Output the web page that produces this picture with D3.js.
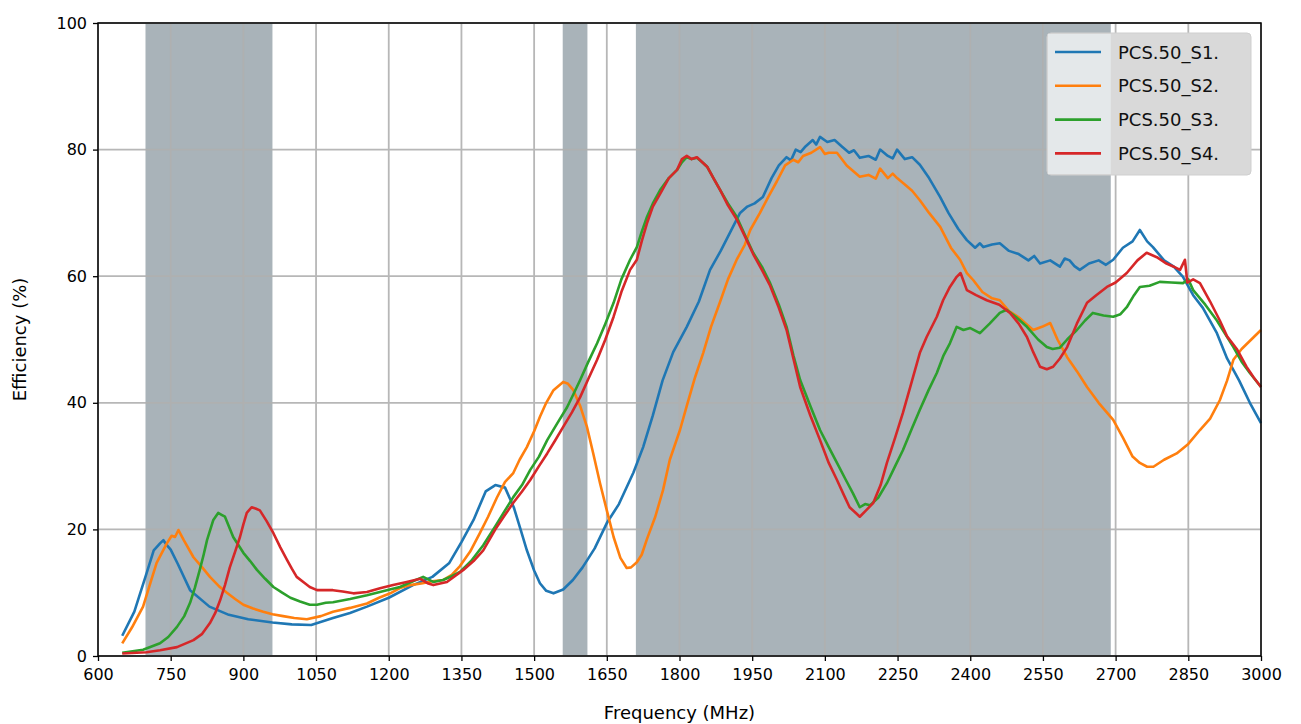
<!DOCTYPE html>
<html>
<head>
    <title>Efficiency</title>
    <script src="https://d3js.org/d3.v7.min.js"></script>
    <style>
        body { margin: 0; background: #fff; }
        svg { display: block; font-family: "DejaVu Sans", sans-serif; }
    </style>
</head>
<body>
    <svg width="1301" height="724"></svg>
    <script>
        // tick labels
        const xTicks = [600, 750, 900, 1050, 1200, 1350, 1500, 1650, 1800, 1950, 2100, 2250, 2400, 2550, 2700, 2850, 3000];
        const yTicks = [0, 20, 40, 60, 80, 100];

        // shaded bands (MHz)
        const bands = [[698, 960], [1559, 1610], [1710, 2690]];

        const seriesNames = ["PCS.50_S1.", "PCS.50_S2.", "PCS.50_S3.", "PCS.50_S4."];
        const seriesColors = ["#1f77b4", "#ff7f0e", "#2ca02c", "#d62728"];

        // [frequency MHz, efficiency %]
        const s1 = [[650,3.2],[675,7],[700,13],[715,16.7],[728,17.8],[735,18.3],[742,17.5],[750,16.8],[765,14.5],[790,10.4],[830,7.8],[870,6.5],[910,5.8],[960,5.3],[1000,5.0],[1040,4.9],[1085,6.0],[1120,6.8],[1155,7.8],[1200,9.2],[1250,11.2],[1290,12.5],[1325,14.7],[1350,18],[1375,21.5],[1400,26],[1420,27],[1440,26.6],[1458,23.5],[1472,20],[1485,16.7],[1500,13.5],[1512,11.5],[1525,10.3],[1540,9.9],[1560,10.5],[1580,12],[1600,14],[1625,17],[1650,21],[1675,24],[1705,29],[1725,33],[1745,38],[1765,43.5],[1787,48],[1815,52],[1840,56],[1863,61],[1885,64],[1905,67],[1925,70],[1940,71],[1955,71.5],[1972,72.5],[1990,75.5],[2005,77.5],[2021,78.8],[2030,78.3],[2040,80],[2050,79.6],[2060,80.5],[2075,81.5],[2082,80.8],[2090,82],[2105,81.2],[2120,81.5],[2135,80.5],[2150,79.5],[2160,79.9],[2172,78.7],[2190,79],[2205,78.4],[2214,80],[2230,79],[2240,78.6],[2249,80],[2265,78.5],[2280,78.8],[2296,77.6],[2315,75.5],[2338,72.5],[2355,70],[2375,67.5],[2393,65.7],[2410,64.5],[2420,65.2],[2427,64.6],[2445,65],[2461,65.2],[2480,64],[2500,63.5],[2520,62.5],[2532,63.2],[2544,62],[2565,62.5],[2585,61.5],[2595,62.8],[2605,62.5],[2615,61.6],[2626,61],[2645,62],[2665,62.5],[2680,61.8],[2695,62.6],[2715,64.5],[2735,65.5],[2750,67.3],[2765,65.5],[2777,64.6],[2800,62.5],[2820,61.5],[2839,59.9],[2860,57],[2880,55],[2909,51],[2930,47],[2955,43.5],[2977,40],[3000,36.8]];

        const s2 = [[650,2],[670,4.5],[693,7.8],[708,11.5],[721,14.7],[742,17.8],[752,19],[759,18.8],[766,19.9],[777,18.3],[797,15.6],[815,14],[831,12.5],[850,11],[866,10],[883,9],[900,8.1],[920,7.5],[941,7],[960,6.6],[982,6.3],[1005,6],[1031,5.8],[1060,6.3],[1085,7],[1120,7.6],[1155,8.3],[1180,9.2],[1203,9.9],[1225,10.8],[1244,11.2],[1270,11.5],[1290,11.8],[1312,12],[1330,12.8],[1347,14.2],[1368,16.5],[1388,19.4],[1405,22],[1423,25],[1440,27.5],[1457,28.9],[1470,31],[1485,33],[1500,35.5],[1512,37.8],[1525,40],[1540,42],[1560,43.3],[1570,43],[1581,42],[1595,39.5],[1609,36.2],[1622,32],[1636,27.3],[1650,23],[1664,18.8],[1678,15.5],[1691,13.9],[1700,14],[1712,14.8],[1722,16],[1733,18.5],[1750,22],[1766,26.2],[1780,31],[1801,35.7],[1815,39.5],[1832,44],[1849,47.9],[1865,52],[1884,56],[1900,59.5],[1918,62.6],[1935,65],[1946,67.3],[1966,70],[1983,72.5],[2001,75],[2018,77.5],[2035,78.4],[2045,78],[2055,79],[2072,79.5],[2090,80.4],[2100,79.3],[2108,79.5],[2125,79.5],[2145,77.5],[2160,76.5],[2172,75.7],[2190,76],[2205,75.4],[2214,77],[2230,75.5],[2240,76.2],[2249,75.5],[2265,74.5],[2280,73.5],[2296,72],[2315,70],[2338,67.8],[2360,64.5],[2379,62.6],[2393,60.5],[2406,59.4],[2425,57.5],[2445,56.5],[2461,56.2],[2480,54.5],[2500,53.5],[2515,52.5],[2530,51.5],[2548,52],[2565,52.6],[2580,50],[2600,47.2],[2620,45],[2641,42.5],[2665,40],[2695,37.3],[2715,34.5],[2735,31.5],[2750,30.5],[2765,29.9],[2778,29.9],[2800,31],[2826,32],[2850,33.5],[2874,35.7],[2895,37.5],[2915,40.4],[2930,43.5],[2943,46.8],[2960,48.5],[2980,50],[3000,51.5]];

        const s3 = [[650,0.5],[693,1],[728,2],[745,3],[763,4.6],[778,6.3],[790,8.4],[800,10.8],[810,13.6],[818,16],[825,18.3],[838,21.5],[848,22.6],[855,22.3],[862,22],[870,20.5],[879,18.8],[890,17.5],[900,16.3],[914,15],[928,13.6],[945,12.2],[962,10.9],[980,10],[997,9.2],[1017,8.6],[1037,8.1],[1052,8.1],[1070,8.4],[1085,8.5],[1120,9],[1155,9.6],[1196,10.4],[1223,10.9],[1250,11.8],[1271,12.5],[1292,11.7],[1312,12],[1330,12.6],[1347,13.3],[1370,15],[1395,17.5],[1420,20.5],[1440,23],[1457,25.1],[1475,27],[1492,29.4],[1510,31.5],[1527,34.1],[1548,36.8],[1568,39.3],[1582,41.5],[1595,43.6],[1612,46.5],[1630,49.4],[1647,52.5],[1664,55.8],[1680,59.5],[1698,62.6],[1712,64.6],[1722,67],[1733,69.4],[1745,71.5],[1760,73.6],[1778,75.5],[1795,76.8],[1805,78],[1815,78.8],[1825,78.5],[1836,78.7],[1847,78],[1857,77.3],[1870,75.5],[1884,73.6],[1900,71.5],[1918,69.4],[1935,66.5],[1952,63.7],[1970,61.5],[1987,58.9],[2005,55.5],[2021,52],[2035,47.5],[2049,43.6],[2070,39.5],[2090,35.7],[2108,33],[2125,30.5],[2142,28],[2158,25.7],[2172,23.5],[2183,24],[2193,23.8],[2210,25],[2228,27.3],[2245,30],[2261,32.5],[2280,36],[2296,38.9],[2314,42],[2331,44.7],[2345,47.5],[2358,49.4],[2372,52],[2386,51.5],[2400,51.8],[2420,51],[2440,52.5],[2461,54.2],[2475,54.7],[2495,53.5],[2517,52],[2540,50],[2558,48.8],[2570,48.5],[2585,48.7],[2600,50],[2620,51.5],[2637,53],[2653,54.2],[2675,53.8],[2695,53.6],[2710,54],[2723,55.1],[2738,57],[2750,58.3],[2770,58.5],[2791,59.1],[2815,59],[2839,58.9],[2850,59.5],[2860,57.8],[2885,55.5],[2909,53],[2925,51],[2943,48.8],[2960,46.5],[2977,44.7],[3000,42.5]];

        const s4 = [[650,0.4],[700,0.6],[728,0.9],[763,1.4],[797,2.5],[815,3.5],[831,5.2],[842,6.8],[852,8.8],[862,11.2],[872,14],[883,16.5],[893,18.8],[900,20.8],[907,22.6],[917,23.5],[925,23.3],[934,23],[948,21.3],[962,19.4],[976,17.2],[990,15.2],[1000,13.8],[1010,12.5],[1025,11.6],[1037,10.9],[1052,10.4],[1085,10.4],[1105,10.2],[1127,9.9],[1155,10.1],[1182,10.7],[1209,11.2],[1237,11.7],[1265,12.2],[1280,11.5],[1292,11.2],[1320,11.7],[1354,13.6],[1375,15],[1395,16.7],[1420,20],[1440,22.3],[1457,24.2],[1475,26],[1492,27.8],[1510,30],[1527,32],[1543,34],[1560,36.2],[1578,38.5],[1595,40.9],[1612,43.8],[1630,46.8],[1647,50],[1664,53.6],[1680,57.5],[1698,61],[1712,62.6],[1722,65.5],[1733,68.4],[1745,71],[1760,73],[1778,75.5],[1795,76.8],[1805,78.5],[1815,79],[1825,78.5],[1836,78.8],[1847,78],[1857,77.3],[1870,75.5],[1884,73.6],[1900,71.2],[1918,69],[1935,66.3],[1952,63.5],[1970,61],[1987,58.5],[2005,55],[2021,51.5],[2035,47],[2049,42.5],[2070,38],[2090,34.1],[2108,30.5],[2125,27.8],[2140,25.3],[2151,23.5],[2165,22.5],[2172,22],[2185,23],[2200,24.2],[2215,27],[2228,30.5],[2245,34.5],[2261,38.4],[2278,43],[2296,47.9],[2310,50.4],[2331,53.6],[2344,56.2],[2358,58.3],[2372,59.9],[2380,60.5],[2393,57.8],[2412,57],[2434,56.2],[2460,55.5],[2482,54.2],[2500,52.5],[2517,50.4],[2530,48],[2544,45.7],[2558,45.3],[2571,45.7],[2585,47],[2600,48.8],[2620,52.5],[2641,55.8],[2660,57],[2682,58.3],[2700,59],[2723,60.5],[2745,62.5],[2764,63.7],[2785,63],[2805,62],[2820,61.5],[2833,61],[2843,62.6],[2848,59],[2860,59.5],[2874,58.9],[2895,56],[2915,53],[2930,50.5],[2950,48.5],[2970,45.7],[2985,44],[3000,42.5]];

        const allSeries = [s1, s2, s3, s4];

        const margin = { left: 98, right: 40, top: 23, bottom: 68 };
        const W = 1301, H = 724;
        const svg = d3.select("svg");

        const x = d3.scaleLinear().domain([600, 3000]).range([margin.left, W - margin.right]);
        const y = d3.scaleLinear().domain([0, 100]).range([H - margin.bottom, margin.top]);

        // shaded bands
        svg.append("g").selectAll("rect")
            .data(bands)
            .enter().append("rect")
            .attr("x", d => x(d[0]))
            .attr("width", d => x(d[1]) - x(d[0]))
            .attr("y", y(100))
            .attr("height", y(0) - y(100))
            .attr("fill", "#a9b3b9");

        // grid
        const grid = svg.append("g").attr("stroke", "#b0b0b0").attr("stroke-width", 1.8).attr("opacity", 0.9);
        grid.selectAll(".gx").data(xTicks).enter().append("line")
            .attr("x1", d => x(d)).attr("x2", d => x(d))
            .attr("y1", y(0)).attr("y2", y(100));
        grid.selectAll(".gy").data(yTicks).enter().append("line")
            .attr("x1", x(600)).attr("x2", x(3000))
            .attr("y1", d => y(d)).attr("y2", d => y(d));

        // curves
        const line = d3.line().x(d => x(d[0])).y(d => y(d[1]));
        svg.append("g").selectAll("path")
            .data(allSeries)
            .enter().append("path")
            .attr("d", d => line(d))
            .attr("fill", "none")
            .attr("stroke", (d, i) => seriesColors[i])
            .attr("stroke-width", 2.6)
            .attr("stroke-linejoin", "round");

        // axes
        const xAxis = svg.append("g")
            .attr("transform", `translate(0, ${y(0)})`)
            .call(d3.axisBottom(x).tickValues(xTicks).tickFormat(d3.format("d")).tickSizeOuter(0).tickSize(5).tickPadding(8));
        const yAxis = svg.append("g")
            .attr("transform", `translate(${x(600)}, 0)`)
            .call(d3.axisLeft(y).tickValues(yTicks).tickSizeOuter(0).tickSize(5).tickPadding(6));
        [xAxis, yAxis].forEach(a => {
            a.select(".domain").remove();
            a.selectAll("line").attr("stroke", "#000").attr("stroke-width", 1.3);
            a.selectAll("text").attr("font-size", 16).attr("fill", "#000").attr("font-family", "DejaVu Sans");
        });

        // frame
        svg.append("rect")
            .attr("x", x(600)).attr("y", y(100))
            .attr("width", x(3000) - x(600)).attr("height", y(0) - y(100))
            .attr("fill", "none").attr("stroke", "#000").attr("stroke-width", 1.5);

        // axis titles
        svg.append("text")
            .attr("x", (x(600) + x(3000)) / 2).attr("y", 719)
            .attr("text-anchor", "middle").attr("font-size", 18)
            .text("Frequency (MHz)");
        svg.append("text")
            .attr("transform", `translate(26, ${(y(0) + y(100)) / 2}) rotate(-90)`)
            .attr("text-anchor", "middle").attr("font-size", 18)
            .text("Efficiency (%)");

        // legend
        const lg = { x: 1047, y: 33, w: 204, h: 142 };
        const legend = svg.append("g");
        legend.append("rect")
            .attr("x", lg.x).attr("y", lg.y).attr("width", lg.w).attr("height", lg.h)
            .attr("rx", 4).attr("fill", "#d9d9d9").attr("stroke", "#cfcfcf");
        // part of the box that sits over the last band looks lighter
        legend.append("rect")
            .attr("x", lg.x + 1).attr("y", lg.y + 1)
            .attr("width", x(bands[2][1]) - lg.x - 1).attr("height", lg.h - 2)
            .attr("fill", "#e4e8ea");
        seriesNames.forEach((name, i) => {
            const yy = lg.y + 19 + i * 33.8;
            legend.append("line")
                .attr("x1", lg.x + 8).attr("x2", lg.x + 54)
                .attr("y1", yy).attr("y2", yy)
                .attr("stroke", seriesColors[i]).attr("stroke-width", 2.6);
            legend.append("text")
                .attr("x", lg.x + 71).attr("y", yy + 6.5)
                .attr("font-size", 18).attr("fill", "#111")
                .text(name);
        });
    </script>
</body>
</html>
